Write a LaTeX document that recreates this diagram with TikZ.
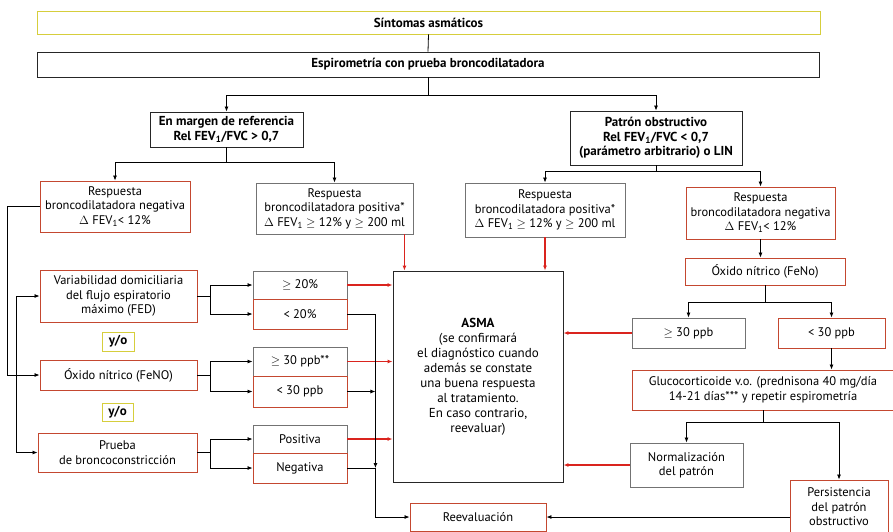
\documentclass[tikz,border=0pt]{standalone}
\usepackage{fontspec}
\setmainfont{PT Sans}
\usetikzlibrary{arrows.meta,calc}
\definecolor{yelframe}{RGB}{214,206,60}
\definecolor{redframe}{RGB}{196,72,48}
\definecolor{redarrow}{RGB}{218,36,30}
\def\flowbox#1[#2](#3,#4)(#5,#6)#7{\node[#2,minimum width=#5pt-#3pt,minimum height=#6pt-#4pt] (#1) at ({(#3+#5)/2},{(#4+#6)/2}) {#7};}
\def\FEV{FEV\textsubscript{1}}

\begin{document}
\begin{tikzpicture}[x=1pt,y=-1pt,
	box/.style={draw,line width=0.9pt,inner sep=0pt,align=center,font=\fontsize{12.5}{14.5}\selectfont},
	blackbox/.style={box,draw=black!85},
	greybox/.style={box,draw=black!55},
	redbox/.style={box,draw=redframe},
	yelbox/.style={box,draw=yelframe,font=\fontsize{13}{14.5}\selectfont\bfseries},
	headbox/.style={blackbox,font=\fontsize{13}{14.5}\selectfont\bfseries},
	arr/.style={line width=0.8pt,-{Latex[length=5pt,width=4pt]}},
	rarr/.style={line width=1.2pt,draw=redarrow,-{Latex[length=5pt,width=4pt]},color=redarrow}]
	
	\fill[white] (0,0) rectangle (893,531);
	\useasboundingbox (0,0) rectangle (893,531);
	
	%%%%% top
	\flowbox{sint}[yelbox](37,11)(820,34){Síntomas asmáticos}
	\flowbox{espi}[headbox](37,52)(819,77){Espirometría con prueba broncodilatadora}
	\flowbox{marg}[headbox](150,112)(303,147){En margen de referencia\\Rel \FEV/FVC > 0,7}
	\flowbox{patr}[headbox](570,111)(742,165){Patrón obstructivo\\Rel \FEV/FVC < 0,7\\(parámetro arbitrario) o LIN}
	
	\draw[line width=0.8pt] (sint.south) -- (espi.north);
	\draw[line width=0.8pt] (espi.south) -- ++(0,18) coordinate (e1);
	\draw[arr] (e1) -| (marg.north);
	\draw[arr] (e1) -| (patr.north);
	
	%%%%% respuesta
	\flowbox{rnegl}[redbox](40,181)(190,232){Respuesta\\broncodilatadora negativa\\$\Delta$ \FEV< 12\%}
	\flowbox{rposl}[greybox](256,183)(413,234){Respuesta\\broncodilatadora positiva*\\$\Delta$ \FEV{} $\geq$ 12\% y $\geq$ 200 ml}
	\flowbox{rposr}[greybox](465,183)(625,237){Respuesta\\broncodilatadora positiva*\\$\Delta$ \FEV{} $\geq$ 12\% y $\geq$ 200 ml}
	\flowbox{rnegr}[redbox](686,187)(835,239){Respuesta\\broncodilatadora negativa\\$\Delta$ \FEV< 12\%}
	
	\draw[line width=0.8pt] (marg.south) -- ++(0,15) coordinate (m1);
	\draw[arr] (m1) -| (rnegl.north);
	\draw[arr] (m1) -| (rposl.north);
	\draw[line width=0.8pt] (patr.south) -- ++(0,6) coordinate (p1);
	\draw[arr] (p1) -| (rposr.north);
	\draw[arr] (p1) -| (rnegr.north);
	
	%%%%% ASMA
	\flowbox{asma}[blackbox,font=\fontsize{13}{15}\selectfont](393,271)(563,482){{\bfseries ASMA}\\(se confirmará\\el diagnóstico cuando\\además se constate\\una buena respuesta\\al tratamiento.\\En caso contrario,\\reevaluar)}
	
	\draw[rarr] ([xshift=-9pt]rposl.south east) -- ([xshift=-9pt]rposl.south east |- asma.north);
	\draw[rarr] (rposr.south) -- (rposr.south |- asma.north);
	
	%%%%% left column
	\flowbox{var}[redbox](40,270)(197,322){Variabilidad domiciliaria\\del flujo espiratorio\\máximo (FED)}
	\flowbox{yo1}[yelbox](102,332)(134,351){y/o}
	\flowbox{oxl}[redbox](40,360)(197,390){Óxido nítrico (FeNO)}
	\flowbox{yo2}[yelbox](102,403)(133,421){y/o}
	\flowbox{pru}[redbox](38,433)(197,472){Prueba\\de broncoconstricción}
	
	\flowbox{m20}[greybox](253,271)(347,299){$\geq$ 20\%}
	\flowbox{l20}[redbox](253,299)(347,329){< 20\%}
	\flowbox{m30}[greybox](253,347)(347,376){$\geq$ 30 ppb**}
	\flowbox{l30}[redbox](253,376)(347,407){< 30 ppb}
	\flowbox{pos}[greybox](253,425)(347,453){Positiva}
	\flowbox{neg}[redbox](253,453)(347,483){Negativa}
	
	\draw[arr] (rnegl.west) -- ++(-32,0) |- (oxl.west);
	\coordinate (jv) at ($(var.west)+(-23,0)$);
	\draw[arr] (jv) -- (var.west);
	\draw[arr] (jv) |- (pru.west);
	
	\draw[line width=0.8pt] (var.east) -- ++(13,0) coordinate (v1);
	\draw[arr] (v1) |- (m20.west);
	\draw[arr] (v1) |- (l20.west);
	\draw[line width=0.8pt] (oxl.east) -- ++(13,0) coordinate (o1);
	\draw[arr] (o1) |- (m30.west);
	\draw[arr] (o1) |- (l30.west);
	\draw[line width=0.8pt] (pru.east) -- ++(13,0) coordinate (b1);
	\draw[arr] (b1) |- (pos.west);
	\draw[arr] (b1) |- (neg.west);
	
	\draw[rarr] (m20.east) -- (m20.east -| asma.west);
	\draw[rarr] (m30.east) -- (m30.east -| asma.west);
	\draw[rarr] (pos.east) -- (pos.east -| asma.west);
	
	%%%%% right column
	\flowbox{feno}[redbox](685,258)(845,285){Óxido nítrico (FeNo)}
	\flowbox{mayr}[greybox](632,318)(745,348){$\geq$ 30 ppb}
	\flowbox{menr}[redbox](778,318)(885,348){< 30 ppb}
	\flowbox{gluc}[redbox](632,370)(894,410){Glucocorticoide v.o. (prednisona 40 mg/día\\14-21 días*** y repetir espirometría}
	\flowbox{norm}[greybox](630,443)(743,487){Normalización\\del patrón}
	\flowbox{pers}[redbox](790,480)(888,534){Persistencia\\del patrón\\obstructivo}
	\flowbox{reev}[redbox](410,503)(546,531){Reevaluación}
	
	\draw[arr] (rnegr.south) -- (rnegr.south |- feno.north);
	\draw[line width=0.8pt] (feno.south) -- ++(0,17) coordinate (f1);
	\draw[arr] (f1) -| (mayr.north);
	\draw[arr] (f1) -| (menr.north);
	\draw[rarr] (mayr.west) -- (mayr.west -| asma.east);
	\draw[arr] (menr.south) -- (menr.south |- gluc.north);
	\draw[line width=0.8pt] (gluc.south) -- ++(0,12) coordinate (g1);
	\draw[arr] (g1) -| (norm.north);
	\draw[arr] (g1) -| (pers.north);
	\draw[rarr] (norm.west) -- (norm.west -| asma.east);
	
	%%%%% reevaluacion
	\draw[line width=0.8pt] (l20.east) -- ++(28,0) coordinate (l1);
	\draw[arr] (l1) -- (l1 |- neg.east);
	\draw[arr] (l30.east) -- (l30.east -| l1);
	\draw[arr] (neg.east) -- (neg.east -| l1) |- (reev.west);
	\draw[arr] (pers.west |- reev.east) -- (reev.east);
	
\end{tikzpicture}
\end{document}
